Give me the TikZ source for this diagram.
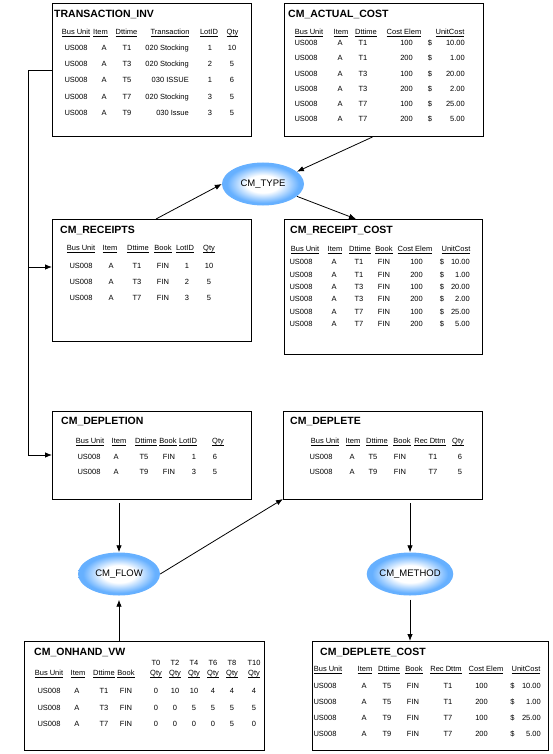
\documentclass[tikz,border=0pt]{standalone}
\usepackage{fontspec}
\setmainfont{Liberation Sans}
\usepackage{tikz}
\usetikzlibrary{positioning,shapes.geometric,arrows.meta}
\definecolor{cmblue}{RGB}{102,176,255}
\pgfdeclareradialshading{glow}{\pgfpoint{0bp}{0bp}}{color(0bp)=(white); color(10bp)=(white); color(22bp)=(cmblue); color(25bp)=(cmblue); color(50bp)=(cmblue)}

\begin{document}
\begin{tikzpicture}[x=1pt, y=-1pt,
	box/.style={draw, line width=1pt, inner sep=0pt, outer sep=0pt},
	ttl/.style={font=\fontsize{10.5}{12}\selectfont\bfseries, inner sep=0pt},
	cell/.style={font=\fontsize{7.5}{8}\selectfont, inner sep=0pt, text height=5.4pt, text depth=0pt},
	proc/.style={ellipse, shading=glow, minimum width=82pt, minimum height=43pt, inner sep=0pt, font=\fontsize{9.5}{11}\selectfont},
	arr/.style={-{Latex[length=7pt,width=5.5pt]}, line width=0.8pt},
	wire/.style={line width=0.8pt}]
	
	\useasboundingbox (0,0) rectangle (552,754);
	
	\node[box, minimum width=199pt, minimum height=133pt] (inv) at (151.5,70.5) {};
	\node[ttl, below right=6pt and 2pt of inv.north west] (invt) {TRANSACTION\_INV};
	\foreach \x/\t [count=\i] in {76/Bus Unit,100.5/Item,126.5/Dttime,170/Transaction,209/LotID,232.5/Qty}
		\node[cell] (invh\i) at (\x,32) {\underline{\smash{\t}}};
	\foreach \y/\d/\tr/\l/\q [count=\i] in {48/T1/020 Stocking/1/10,64/T3/020 Stocking/2/5,80/T5/030 ISSUE/1/6,96.5/T7/020 Stocking/3/5,113/T9/030 Issue/3/5}{
		\node[cell] (inv\i a) at (76,\y) {US008};
		\node[cell] (inv\i b) at (104,\y) {A};
		\node[cell] (inv\i c) at (127,\y) {\d};
		\node[cell, anchor=east] (inv\i d) at (189,\y) {\tr};
		\node[cell] (inv\i e) at (210,\y) {\l};
		\node[cell] (inv\i f) at (232,\y) {\q};
	}
	
	\node[box, minimum width=199pt, minimum height=133pt] (act) at (383.5,70.5) {};
	\node[ttl, below right=6pt and 4pt of act.north west] (actt) {CM\_ACTUAL\_COST};
	\foreach \x/\t [count=\i] in {309/Bus Unit,341/Item,366/Dttime,404/Cost Elem,450/UnitCost}
		\node[cell] (acth\i) at (\x,32) {\underline{\smash{\t}}};
	\foreach \y/\d/\c/\u [count=\i] in {43/T1/100/10.00,58/T1/200/1.00,73.5/T3/100/20.00,88.5/T3/200/2.00,104/T7/100/25.00,119/T7/200/5.00}{
		\node[cell] (act\i a) at (306,\y) {US008};
		\node[cell] (act\i b) at (340,\y) {A};
		\node[cell] (act\i c) at (363,\y) {\d};
		\node[cell, anchor=east] (act\i d) at (413,\y) {\c};
		\node[cell] (act\i e) at (430,\y) {\$};
		\node[cell, anchor=east] (act\i f) at (465,\y) {\u};
	}
	
	\node[box, minimum width=199pt, minimum height=122pt] (rcpt) at (151.5,280) {};
	\node[ttl, below right=7pt and 8pt of rcpt.north west] (rcptt) {CM\_RECEIPTS};
	\foreach \x/\t [count=\i] in {81/Bus Unit,110/Item,138/Dttime,163/Book,185/LotID,209/Qty}
		\node[cell] (rcpth\i) at (\x,248) {\underline{\smash{\t}}};
	\foreach \y/\d/\l/\q [count=\i] in {266/T1/1/10,282/T3/2/5,298/T7/3/5}{
		\node[cell] (rcpt\i a) at (81,\y) {US008};
		\node[cell] (rcpt\i b) at (111,\y) {A};
		\node[cell] (rcpt\i c) at (137,\y) {\d};
		\node[cell] (rcpt\i d) at (163,\y) {FIN};
		\node[cell] (rcpt\i e) at (187,\y) {\l};
		\node[cell] (rcpt\i f) at (209,\y) {\q};
	}
	
	\node[box, minimum width=198pt, minimum height=135pt] (rcst) at (383,286.5) {};
	\node[ttl, below right=7pt and 6pt of rcst.north west] (rcstt) {CM\_RECEIPT\_COST};
	\foreach \x/\t [count=\i] in {305/Bus Unit,335/Item,360/Dttime,384/Book,415/Cost Elem,456/UnitCost}
		\node[cell] (rcsth\i) at (\x,249) {\underline{\smash{\t}}};
	\foreach \y/\d/\c/\u [count=\i] in {262/T1/100/10.00,274.4/T1/200/1.00,286.8/T3/100/20.00,299.2/T3/200/2.00,311.6/T7/100/25.00,324/T7/200/5.00}{
		\node[cell] (rcst\i a) at (301,\y) {US008};
		\node[cell] (rcst\i b) at (334,\y) {A};
		\node[cell] (rcst\i c) at (359,\y) {\d};
		\node[cell] (rcst\i d) at (384,\y) {FIN};
		\node[cell, anchor=east] (rcst\i e) at (423,\y) {\c};
		\node[cell] (rcst\i f) at (442,\y) {\$};
		\node[cell, anchor=east] (rcst\i g) at (470,\y) {\u};
	}
	
	\node[box, minimum width=199pt, minimum height=88pt] (depl) at (151.5,455) {};
	\node[ttl, below right=6pt and 9pt of depl.north west] (deplt) {CM\_DEPLETION};
	\foreach \x/\t [count=\i] in {90/Bus Unit,119/Item,146/Dttime,168/Book,188/LotID,218/Qty}
		\node[cell] (deplh\i) at (\x,441) {\underline{\smash{\t}}};
	\foreach \y/\d/\l/\q [count=\i] in {457/T5/1/6,472/T9/3/5}{
		\node[cell] (depl\i a) at (89,\y) {US008};
		\node[cell] (depl\i b) at (116,\y) {A};
		\node[cell] (depl\i c) at (144,\y) {\d};
		\node[cell] (depl\i d) at (169,\y) {FIN};
		\node[cell] (depl\i e) at (194,\y) {\l};
		\node[cell] (depl\i f) at (215,\y) {\q};
	}
	
	\node[box, minimum width=199pt, minimum height=88pt] (dpl) at (382.5,455) {};
	\node[ttl, below right=6pt and 7pt of dpl.north west] (dplt) {CM\_DEPLETE};
	\foreach \x/\t [count=\i] in {325/Bus Unit,353/Item,377/Dttime,402/Book,430/Rec Dttm,458/Qty}
		\node[cell] (dplh\i) at (\x,441) {\underline{\smash{\t}}};
	\foreach \y/\d/\r/\q [count=\i] in {457/T5/T1/6,472/T9/T7/5}{
		\node[cell] (dpl\i a) at (321,\y) {US008};
		\node[cell] (dpl\i b) at (352,\y) {A};
		\node[cell] (dpl\i c) at (373,\y) {\d};
		\node[cell] (dpl\i d) at (400,\y) {FIN};
		\node[cell] (dpl\i e) at (433,\y) {\r};
		\node[cell] (dpl\i f) at (460,\y) {\q};
	}
	
	\node[box, minimum width=240pt, minimum height=109pt] (onh) at (144,695.5) {};
	\node[ttl, below right=7pt and 10pt of onh.north west] (onht) {CM\_ONHAND\_VW};
	\foreach \x/\t [count=\i] in {49/Bus Unit,78/Item,104/Dttime,126/Book}
		\node[cell] (onhh\i) at (\x,673) {\underline{\smash{\t}}};
	\foreach \x/\t [count=\i] in {156/T0,175/T2,194/T4,213/T6,232/T8,254/T10}{
		\node[cell] (onhp\i) at (\x,663) {\t};
		\node[cell] (onhq\i) at (\x,673) {\underline{\smash{Qty}}};
	}
	\foreach \y/\d/\p/\q/\r/\s/\u/\v [count=\i] in {691/T1/0/10/10/4/4/4,708/T3/0/0/5/5/5/5,724/T7/0/0/0/0/5/0}{
		\node[cell] (onh\i a) at (49,\y) {US008};
		\node[cell] (onh\i b) at (77,\y) {A};
		\node[cell] (onh\i c) at (104,\y) {\d};
		\node[cell] (onh\i d) at (126,\y) {FIN};
		\node[cell] (onh\i e) at (156,\y) {\p};
		\node[cell] (onh\i f) at (175,\y) {\q};
		\node[cell] (onh\i g) at (194,\y) {\r};
		\node[cell] (onh\i h) at (213,\y) {\s};
		\node[cell] (onh\i k) at (232,\y) {\u};
		\node[cell] (onh\i m) at (254,\y) {\v};
	}
	
	\node[box, minimum width=236pt, minimum height=109pt] (dcst) at (430,695.5) {};
	\node[ttl, below right=7pt and 8pt of dcst.north west] (dcstt) {CM\_DEPLETE\_COST};
	\foreach \x/\t [count=\i] in {328/Bus Unit,365/Item,389/Dttime,414/Book,446/Rec Dttm,486/Cost Elem,526/UnitCost}
		\node[cell] (dcsth\i) at (\x,669) {\underline{\smash{\t}}};
	\foreach \y/\d/\r/\c/\u [count=\i] in {686/T5/T1/100/10.00,702/T5/T1/200/1.00,718/T9/T7/100/25.00,734/T9/T7/200/5.00}{
		\node[cell] (dcst\i a) at (325,\y) {US008};
		\node[cell] (dcst\i b) at (364,\y) {A};
		\node[cell] (dcst\i c) at (387,\y) {\d};
		\node[cell] (dcst\i d) at (413,\y) {FIN};
		\node[cell] (dcst\i e) at (448,\y) {\r};
		\node[cell, anchor=east] (dcst\i f) at (488,\y) {\c};
		\node[cell] (dcst\i g) at (512.5,\y) {\$};
		\node[cell, anchor=east] (dcst\i h) at (541,\y) {\u};
	}
	
	\node[proc] (type) at (263,184) {CM\_TYPE};
	\node[proc] (flow) at (119,574) {CM\_FLOW};
	\node[proc] (meth) at (410,574) {CM\_METHOD};
	
	\draw[arr] ([xshift=-11pt]act.south) -- (type.20);
	\draw[arr] ([xshift=4.5pt]rcpt.north) -- (type.west);
	\draw[arr] (type.-20) -- ([xshift=-27pt]rcst.north);
	
	\coordinate[left=24pt of inv.west] (rail);
	\coordinate (rcptin) at ([yshift=13pt]rcpt.west);
	\draw[wire] (inv.west) -- (rail) -- (rail |- depl.west);
	\draw[arr] (rail |- rcptin) -- (rcptin);
	\draw[arr] (rail |- depl.west) -- (depl.west);
	
	\draw[arr, shorten <=4pt] (depl.south -| flow) -- (flow);
	\draw[arr, shorten >=4pt] (onh.north -| flow) -- (flow);
	\draw[arr] (flow.east) -- (dpl.south west);
	\draw[arr, shorten <=4pt] (dpl.south -| meth) -- (meth);
	\draw[arr, shorten <=4pt] (meth.south) -- (meth.south |- dcst.north);
	\end{tikzpicture}
\end{document}
